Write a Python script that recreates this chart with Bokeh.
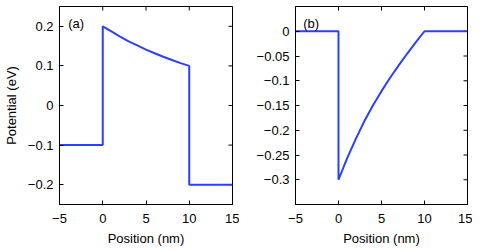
import math
from bokeh.plotting import figure
from bokeh.layouts import row
from bokeh.models import FixedTicker, Range1d, Label
from bokeh.embed import file_html
from bokeh.resources import INLINE

# Panel (a) data
xa = [-5, 0, 0, 1, 2, 3, 4, 5, 6, 7, 8, 9, 10, 10, 15]
ya = [-0.1, -0.1, 0.200, 0.187, 0.174, 0.162, 0.152, 0.141, 0.132, 0.123, 0.115, 0.107, 0.100, -0.2, -0.2]

# Panel (b) data
xb = [-5, 0, 0, 1, 2, 3, 4, 5, 6, 7, 8, 9, 10, 15]
yb = [0, 0, -0.300, -0.257, -0.218, -0.182, -0.150, -0.121, -0.094, -0.069, -0.045, -0.022, 0.0, 0.0]

x_ticks = [-5, 0, 5, 10, 15]
x_labels = ["\u22125", "0", "5", "10", "15"]
ya_ticks = [-0.2, -0.1, 0, 0.1, 0.2]
ya_labels = ["\u22120.2", "\u22120.1", "0", "0.1", "0.2"]
yb_ticks = [-0.3, -0.25, -0.2, -0.15, -0.1, -0.05, 0]
yb_labels = ["\u22120.3", "\u22120.25", "\u22120.2", "\u22120.15", "\u22120.1", "\u22120.05", "0"]

FONT = "Liberation Sans"
FS = "13px"
LINE = "#2b3fff"


def style_axis(ax, ticks, labels):
    ax.ticker = FixedTicker(ticks=ticks)
    ax.minor_tick_line_color = None
    ax.major_tick_in = 4
    ax.major_tick_out = 0
    ax.major_tick_line_color = "black"
    ax.axis_line_color = "black"
    ax.major_label_text_font = FONT
    ax.major_label_text_font_size = FS
    ax.major_label_text_color = "black"
    ax.axis_label_text_font = FONT
    ax.axis_label_text_font_size = FS
    ax.axis_label_text_font_style = "normal"
    ax.axis_label_text_color = "black"
    ax.major_label_standoff = 6
    ax.major_label_overrides = {t: l for t, l in zip(ticks, labels)}


def make_fig(xr, yr, fw, border_left, border_right, yticks, ylabels, ylabel):
    p = figure(frame_width=fw, frame_height=198, output_backend="svg", toolbar_location=None,
               x_range=Range1d(*xr), y_range=Range1d(*yr),
               min_border_left=border_left, min_border_right=border_right,
               min_border_top=6, min_border_bottom=40)
    p.grid.visible = False
    p.outline_line_color = "black"
    p.outline_line_width = 1
    p.background_fill_color = "white"
    p.border_fill_color = "white"
    style_axis(p.xaxis[0], x_ticks, x_labels)
    style_axis(p.yaxis[0], yticks, ylabels)
    p.xaxis[0].major_label_standoff = 9
    p.xaxis[0].axis_label = "Position (nm)"
    p.xaxis[0].axis_label_standoff = 5
    if ylabel:
        p.yaxis[0].axis_label = ylabel
        p.yaxis[0].axis_label_standoff = 6
    # inner ticks on the top and right edges (half of each dash is clipped by the frame)
    p.scatter(x=x_ticks, y=[yr[1]] * len(x_ticks), marker="dash", size=8,
              angle=math.pi / 2, line_color="black", line_width=1)
    p.scatter(x=[xr[1]] * len(yticks), y=yticks, marker="dash", size=8,
              line_color="black", line_width=1)
    return p


pa = make_fig((-5, 15), (-0.25, 0.25), 173, 57, 7, ya_ticks, ya_labels, "Potential (eV)")
pa.line(xa, ya, line_color=LINE, line_width=2)
pa.add_layout(Label(x=-4.0, y=0.207, text="(a)", text_font=FONT, text_font_size=FS,
                    text_baseline="middle", text_color="black"))

pb = make_fig((-5, 15), (-0.35, 0.05), 172, 56, 5, yb_ticks, yb_labels, None)
pb.line(xb, yb, line_color=LINE, line_width=2)
pb.add_layout(Label(x=-4.1, y=0.016, text="(b)", text_font=FONT, text_font_size=FS,
                    text_baseline="middle", text_color="black"))

layout = row(pa, pb)
open("out.html", "w").write(file_html(layout, INLINE))
